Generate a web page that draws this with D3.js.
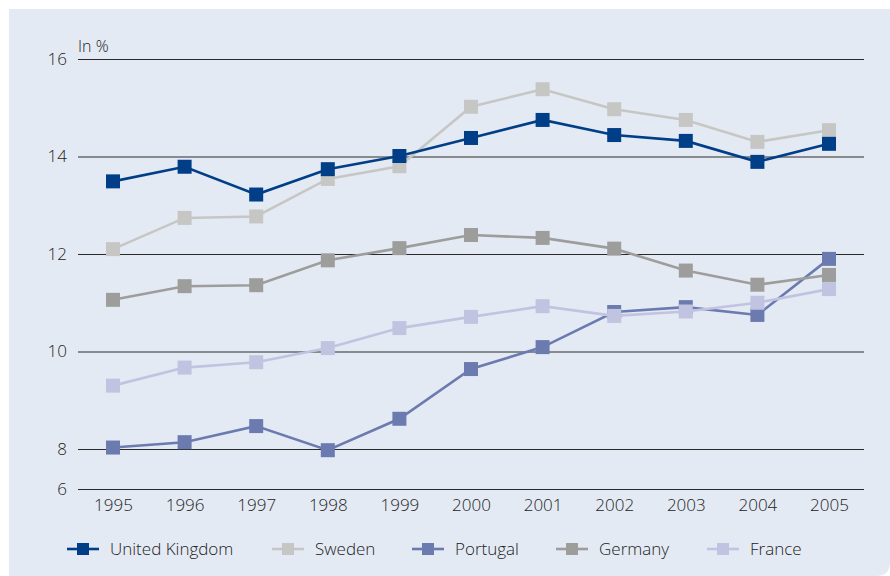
<!DOCTYPE html>
<html>
<head>
<meta charset="utf-8">
<script src="https://cdn.jsdelivr.net/npm/d3@7"></script>
<style>
  html, body { margin: 0; padding: 0; background: #fff; }
  svg { display: block; font-family: "Open Sans", sans-serif; font-weight: 300; }
</style>
</head>
<body>
<svg id="chart" width="890" height="576"></svg>
<script>
// data
var years = [1995, 1996, 1997, 1998, 1999, 2000, 2001, 2002, 2003, 2004, 2005];
var yTicks = [6, 8, 10, 12, 14, 16];

var unitedKingdom = [13.49, 13.79, 13.22, 13.74, 14.01, 14.38, 14.75, 14.44, 14.32, 13.89, 14.26];
var sweden        = [12.10, 12.74, 12.77, 13.54, 13.80, 15.02, 15.38, 14.97, 14.75, 14.30, 14.54];
var portugal      = [8.03, 8.14, 8.47, 7.94, 8.62, 9.64, 10.09, 10.81, 10.91, 10.75, 11.90];
var germany       = [11.06, 11.34, 11.36, 11.87, 12.12, 12.39, 12.33, 12.11, 11.66, 11.37, 11.57];
var france        = [9.30, 9.67, 9.78, 10.07, 10.48, 10.71, 10.93, 10.73, 10.82, 11.00, 11.28];

var series = [
  { name: 'United Kingdom', values: unitedKingdom, color: '#003f87', order: 1 },
  { name: 'Sweden',         values: sweden,        color: '#c6c7c5', order: 0 },
  { name: 'Portugal',       values: portugal,      color: '#6b7bb0', order: 2 },
  { name: 'Germany',        values: germany,       color: '#9d9e9c', order: 3 },
  { name: 'France',         values: france,        color: '#c1c4e0', order: 4 }
];

var svg = d3.select('#chart');

// panel background, rounded bottom-right corner
svg.append('path')
  .attr('d', 'M9,9 H890 V562 Q890,576 876,576 H9 Z')
  .attr('fill', '#e4eaf4');

var x = d3.scaleLinear().domain([1995, 2005]).range([113, 829]);
// broken axis: 6..8 is squeezed
var y = d3.scaleLinear().domain([6, 8, 16]).range([489, 449, 59]);

var left = 78, right = 864;
var textColor = '#222';

// grid + y labels
var yAxis = svg.append('g')
  .attr('transform', 'translate(' + left + ',0)')
  .call(d3.axisLeft(y).tickValues(yTicks).tickSize(-(right - left)).tickPadding(11).tickFormat(d3.format('d')))
  .attr('font-family', null).attr('font-size', null);
yAxis.select('.domain').remove();
yAxis.selectAll('line').attr('stroke', '#2a2a2a').attr('stroke-width', 1.1);
yAxis.selectAll('text').attr('font-size', 17).attr('fill', textColor);

// x labels
var xAxis = svg.append('g')
  .attr('transform', 'translate(0,' + y(6) + ')')
  .call(d3.axisBottom(x).tickValues(years).tickSize(0).tickPadding(10).tickFormat(d3.format('d')))
  .attr('font-family', null).attr('font-size', null);
xAxis.select('.domain').remove();
xAxis.selectAll('text').attr('font-size', 17).attr('fill', textColor);

svg.append('text')
  .attr('x', left).attr('y', 52)
  .attr('font-size', 16).attr('fill', textColor)
  .text('In %');

// lines
var line = d3.line()
  .x(function(d, i) { return x(years[i]); })
  .y(function(d) { return y(d); });

var ms = 14;
var drawn = series.slice().sort(function(a, b) { return a.order - b.order; });

drawn.forEach(function(s) {
  var g = svg.append('g');
  g.append('path')
    .datum(s.values)
    .attr('d', line)
    .attr('fill', 'none')
    .attr('stroke', s.color)
    .attr('stroke-width', 2.6);
  g.selectAll('rect')
    .data(s.values)
    .enter().append('rect')
    .attr('x', function(d, i) { return x(years[i]) - ms / 2; })
    .attr('y', function(d) { return y(d) - ms / 2; })
    .attr('width', ms).attr('height', ms)
    .attr('fill', s.color);
});

// legend
var legendX = [67, 272, 412, 556, 707];
var legendY = 549;
var lg = svg.append('g').selectAll('g')
  .data(series)
  .enter().append('g')
  .attr('transform', function(d, i) { return 'translate(' + legendX[i] + ',' + legendY + ')'; });

lg.append('line')
  .attr('x1', 0).attr('x2', 32)
  .attr('stroke', function(d) { return d.color; })
  .attr('stroke-width', 2.6);
lg.append('rect')
  .attr('x', 16 - 6).attr('y', -6)
  .attr('width', 12).attr('height', 12)
  .attr('fill', function(d) { return d.color; });
lg.append('text')
  .attr('x', 43).attr('y', 6)
  .attr('font-size', 17).attr('fill', textColor)
  .text(function(d) { return d.name; });
</script>
</body>
</html>
